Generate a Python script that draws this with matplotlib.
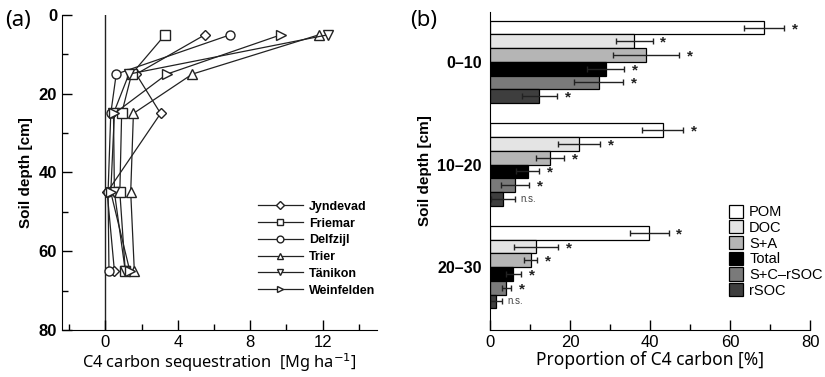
import numpy as np
import matplotlib
matplotlib.use('Agg')
import matplotlib.pyplot as plt
from matplotlib.ticker import MultipleLocator
from matplotlib.patches import Patch

plt.rcParams['font.family'] = ['Liberation Sans', 'DejaVu Sans']

# ---- panel (a) data ----
depths = [5, 15, 25, 45, 65]
sites = ['Jyndevad', 'Friemar', 'Delfzijl', 'Trier', 'Tänikon', 'Weinfelden']
jyndevad = [5.5, 1.7, 3.05, 0.1, 0.5]
friemar = [3.3, 1.45, 0.9, 0.8, 1.1]
delfzijl = [6.9, 0.6, 0.3, 0.15, 0.2]
trier = [11.8, 4.8, 1.55, 1.4, 1.6]
taenikon = [12.3, 1.3, 0.45, 0.5, 1.1]
weinfelden = [9.7, 3.4, 0.5, 0.3, 1.35]
markers = ['D', 's', 'o', '^', 'v', '>']

# ---- panel (b) data ----
depth_classes = ['0\u201310', '10\u201320', '20\u201330']
fractions = ['POM', 'DOC', 'S+A', 'Total', 'S+C\u2013rSOC', 'rSOC']
# rows: fractions, cols: depth classes
prop = np.array([[68.5, 43.2, 39.8],
                 [36.0, 22.3, 11.5],
                 [39.0, 15.1, 10.2],
                 [28.9, 9.4, 5.8],
                 [27.2, 6.3, 4.1],
                 [12.3, 3.3, 1.5]])
prop_err = np.array([[5.0, 5.1, 4.8],
                     [4.6, 5.3, 5.6],
                     [8.2, 3.5, 1.6],
                     [4.6, 2.9, 1.9],
                     [6.1, 3.5, 1.2],
                     [4.4, 3.0, 1.5]])
signif = [['*', '*', '*'],
          ['*', '*', '*'],
          ['*', '*', '*'],
          ['*', '*', '*'],
          ['*', '*', '*'],
          ['*', 'n.s.', 'n.s.']]
colors = ['white', '#e4e4e4', '#b5b5b5', 'black', '#7a7a7a', '#3e3e3e']

fig = plt.figure(figsize=(8.25, 3.77), dpi=100)

# ================= (a) =================
ax = fig.add_axes([0.075, 0.125, 0.382, 0.835])
series = [jyndevad, friemar, delfzijl, trier, taenikon, weinfelden]
for name, vals, m in zip(sites, series, markers):
    ms = 5 if m == 'D' else 6.5
    ax.plot(vals, depths, color='#222222', lw=0.9, marker=m, ms=ms,
            mfc='white', mec='#222222', mew=1.0, label=name)
ax.axvline(0, color='#222222', lw=1.0, zorder=0)
ax.set_xlim(-2.4, 15.0)
ax.set_ylim(80, 0)
ax.xaxis.set_minor_locator(MultipleLocator(2))
ax.set_xticks([0, 4, 8, 12])
ax.yaxis.set_major_locator(MultipleLocator(20))
ax.yaxis.set_minor_locator(MultipleLocator(10))
ax.tick_params(which='major', direction='in', length=7, width=1, labelsize=12)
ax.tick_params(which='minor', direction='in', length=4, width=1)
for lab in ax.get_yticklabels():
    lab.set_fontweight('bold')
for s in ['top', 'right']:
    ax.spines[s].set_visible(False)
ax.set_ylabel('Soil depth [cm]', fontsize=11, fontweight='bold')
ax.set_xlabel('C4 carbon sequestration  [Mg ha$^{-1}$]', fontsize=11.8,
              family=['Noto Sans', 'DejaVu Sans'], labelpad=1)
leg = ax.legend(loc='lower right', bbox_to_anchor=(1.03, 0.07), frameon=False,
                fontsize=9, handlelength=3.6, labelspacing=0.38,
                handletextpad=0.5, markerscale=0.75)
for t in leg.get_texts():
    t.set_fontweight('bold')

# ================= (b) =================
bx = fig.add_axes([0.594, 0.125, 0.388, 0.843])
h = 0.8 / 6
centers = np.arange(len(depth_classes))
for k, frac in enumerate(fractions):
    ypos = centers + (k - 2.5) * h
    bx.barh(ypos, prop[k], height=h, color=colors[k], edgecolor='black',
            linewidth=0.9, label=frac,
            xerr=prop_err[k], error_kw=dict(ecolor='#222222', elinewidth=1.0,
                                            capsize=2.5, capthick=1.0))
    for j in range(len(depth_classes)):
        xs = prop[k, j] + prop_err[k, j] + 2.7
        if signif[k][j] == '*':
            bx.text(xs, ypos[j] + 0.015, '*', ha='center', va='center',
                    fontsize=11, fontweight='bold', color='#222222')
        else:
            bx.text(xs - 1.3, ypos[j], signif[k][j], ha='left', va='center',
                    fontsize=7, color='#444444')
bx.set_ylim(2.611, -0.485)
bx.set_xlim(0, 80)
bx.set_yticks(centers)
bx.set_yticklabels(depth_classes, fontsize=11.5, fontweight='bold')
bx.tick_params(axis='y', length=0, pad=6)
bx.xaxis.set_major_locator(MultipleLocator(20))
bx.xaxis.set_minor_locator(MultipleLocator(10))
bx.tick_params(axis='x', which='major', direction='in', length=7, width=1, labelsize=12)
bx.tick_params(axis='x', which='minor', direction='in', length=4, width=1)
for s in ['top', 'right']:
    bx.spines[s].set_visible(False)
bx.set_ylabel('Soil depth [cm]', fontsize=11, fontweight='bold')
bx.set_xlabel('Proportion of C4 carbon [%]', fontsize=12.5,
              family=['Noto Sans', 'DejaVu Sans'], labelpad=1)
handles = [Patch(facecolor=c, edgecolor='black', linewidth=0.9) for c in colors]
bx.legend(handles, fractions, loc='lower right', bbox_to_anchor=(1.08, 0.06),
          frameon=False, fontsize=10.5, handlelength=1.0, handleheight=1.0,
          labelspacing=0.08, handletextpad=0.4)

fig.text(0.006, 0.93, '(a)', fontsize=16, family=['Noto Sans', 'DejaVu Sans'])
fig.text(0.497, 0.93, '(b)', fontsize=16, family=['Noto Sans', 'DejaVu Sans'])

fig.savefig('out.png', dpi=100)
